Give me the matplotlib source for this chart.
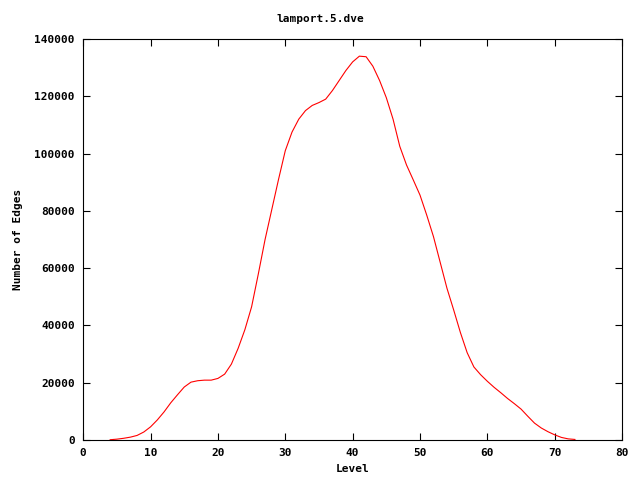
import matplotlib

matplotlib.use("Agg")

import matplotlib.pyplot as plt

levels = list(range(4, 74))
edges = [
    100, 300, 600, 1000, 1600, 2800, 4600, 7000, 9800, 13000,
    15800, 18500, 20200, 20700, 20900, 20900, 21500, 23000, 26500, 32000,
    38500, 46500, 58000, 70000, 80500, 91000, 101000, 107500, 112000, 115000,
    116800, 117800, 119000, 122000, 125500, 129000, 132000, 134000, 133800, 130500,
    125500, 119500, 112000, 102500, 96000, 90800, 85500, 78500, 71000, 62000,
    53000, 45400, 37500, 30500, 25500, 22800, 20500, 18400, 16500, 14500,
    12700, 10800, 8300, 5900, 4200, 2900, 1800, 900, 400, 200,
]
x_ticks = [0, 10, 20, 30, 40, 50, 60, 70, 80]
y_ticks = [0, 20000, 40000, 60000, 80000, 100000, 120000, 140000]

plt.rcParams["font.family"] = "DejaVu Sans Mono"
plt.rcParams["font.weight"] = "bold"
plt.rcParams["font.size"] = 8

fig = plt.figure(figsize=(6.4, 4.8), dpi=100)
ax = fig.add_axes([0.13, 0.0833, 0.842, 0.8355])
ax.plot(levels, edges, color="#ff0000", linewidth=0.8)

ax.set_xlim(0, 80)
ax.set_ylim(0, 140000)
ax.set_xticks(x_ticks)
ax.set_yticks(y_ticks)
ax.tick_params(direction="in", length=5, width=0.8, top=True, right=True, pad=6)
for spine in ax.spines.values():
    spine.set_linewidth(0.8)

fig.text(0.5, 0.96, "lamport.5.dve", ha="center", va="center", fontweight="bold")
ax.set_xlabel("Level", fontweight="bold", labelpad=4)
ax.set_ylabel("Number of Edges", fontweight="bold", labelpad=8)

fig.savefig("out.png", dpi=100)
plt.close(fig)
